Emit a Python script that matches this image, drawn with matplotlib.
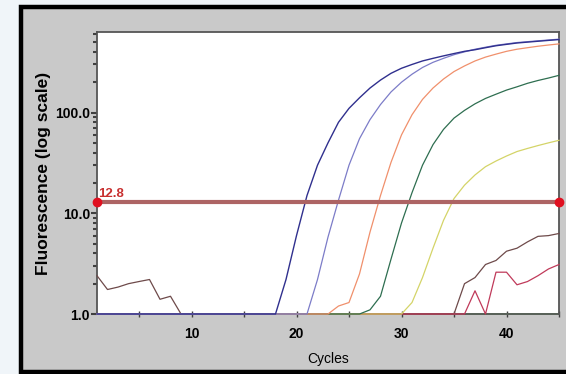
import matplotlib
matplotlib.use("Agg")
import matplotlib.pyplot as plt
from matplotlib.patches import Rectangle
from matplotlib.ticker import FixedLocator, NullFormatter

cycles = list(range(1, 46))

blue = [1.0]*17 + [1.0, 2.2, 6.0, 15, 30, 50, 80, 110, 140, 175, 210, 245, 275, 300,
                   325, 345, 365, 385, 405, 420, 440, 460, 475, 490, 500, 510, 520, 530]
purple = [1.0]*20 + [1.0, 2.2, 5.8, 13.5, 30, 55, 85, 120, 160, 200, 240, 280, 315,
                     345, 375, 400, 425, 445, 465, 480, 495, 505, 515, 525, 535]
orange = [1.0]*22 + [1.0, 1.2, 1.3, 2.5, 6.5, 15, 32, 60, 95, 135, 175, 215, 255,
                     290, 325, 355, 380, 405, 425, 440, 455, 468, 480]
green = [1.0]*26 + [1.1, 1.5, 3.5, 8, 16, 30, 48, 68, 88, 105, 122, 138, 152, 167,
                    180, 195, 208, 220, 234]
yellow = [1.0]*30 + [1.3, 2.3, 4.5, 8.5, 14, 19, 24, 29, 33, 37, 41, 44, 47, 50, 53]
brown = [2.4, 1.75, 1.85, 2.0, 2.1, 2.2, 1.4, 1.5, 1.0] + [1.0]*25 + \
        [1.0, 2.0, 2.3, 3.1, 3.4, 4.2, 4.5, 5.2, 5.9, 6.0, 6.3]
pink = [1.0]*35 + [1.0, 1.7, 1.0, 2.6, 2.6, 1.95, 2.1, 2.4, 2.8, 3.1]
baseline = [1.0]*45

threshold = 12.8
threshold_label = "12.8"

plt.rcParams['font.family'] = ['Liberation Sans', 'DejaVu Sans']

fig = plt.figure(figsize=(5.66, 3.74), dpi=100)
fig.patch.set_facecolor('#f0f5f9')
W, H = 566, 374
frame = Rectangle((20.5/W, 2/H), 1.2, 365/H, transform=fig.transFigure,
                  facecolor='#c9c9c9', edgecolor='black', linewidth=3.2, zorder=-5)
fig.add_artist(frame)

ax = fig.add_axes([97/W, 1-314/H, (559-97)/W, (314-32)/H])
ax.set_zorder(2)
ax.set_facecolor('white')
ax.set_yscale('log')
ax.set_xlim(1, 45)
ax.set_ylim(1, 630)

ax.plot(cycles, baseline, color='#78e078', lw=1.3, clip_on=False, zorder=2)
ax.plot(cycles[16:36], baseline[16:36], color='#e07474', lw=1.3, clip_on=False, zorder=2)
ax.plot(cycles, brown, color='#6e4a4a', lw=0.9, clip_on=False, zorder=3)
ax.plot(cycles, pink, color='#c03a5a', lw=0.9, clip_on=False, zorder=3)
ax.plot(cycles, yellow, color='#d4d468', lw=0.9, clip_on=False, zorder=3)
ax.plot(cycles, green, color='#2e6e50', lw=0.9, clip_on=False, zorder=3)
ax.plot(cycles, orange, color='#f0906c', lw=0.9, clip_on=False, zorder=3)
ax.plot(cycles, purple, color='#7c7cc8', lw=0.9, clip_on=False, zorder=3)
ax.plot(cycles, blue, color='#30308e', lw=1.0, clip_on=False, zorder=3)

ax.axhline(threshold, color='#ad6464', lw=3, zorder=4)
ax.plot([1, 45], [threshold, threshold], 'o', color='#e01020', ms=6, clip_on=False, zorder=5)
ax.text(1.15, threshold * 1.07, threshold_label, color='#c83030', fontsize=9.5,
        fontweight='bold', va='bottom', ha='left')

ax.yaxis.set_major_locator(FixedLocator([1, 10, 100]))
ax.set_yticklabels(['1.0', '10.0', '100.0'])
minor = [m * d for d in (1, 10, 100) for m in range(2, 10) if m * d <= 630]
ax.yaxis.set_minor_locator(FixedLocator(minor))
ax.yaxis.set_minor_formatter(NullFormatter())
ax.xaxis.set_major_locator(FixedLocator([10, 20, 30, 40]))
ax.xaxis.set_minor_locator(FixedLocator([5, 15, 25, 35, 45]))

ax.tick_params(axis='y', which='major', direction='out', length=4, width=1.5,
               color='#404040', labelsize=10, pad=1)
ax.tick_params(axis='y', which='minor', direction='out', length=3, width=1.5, color='#404040')
ax.tick_params(axis='x', which='both', direction='inout', length=5, width=1,
               color='#404040', labelsize=10, pad=7)
for lab in ax.get_xticklabels() + ax.get_yticklabels():
    lab.set_fontweight('bold')

for s in ['left', 'right', 'top', 'bottom']:
    ax.spines[s].set_color('#555555')
    ax.spines[s].set_linewidth(1.3)

ax.set_xlabel('Cycles', fontsize=10, labelpad=8)
ax.set_ylabel('Fluorescence (log scale)', fontsize=12.5, fontweight='bold', labelpad=3)

fig.savefig('out.png', dpi=100, facecolor=fig.get_facecolor())
